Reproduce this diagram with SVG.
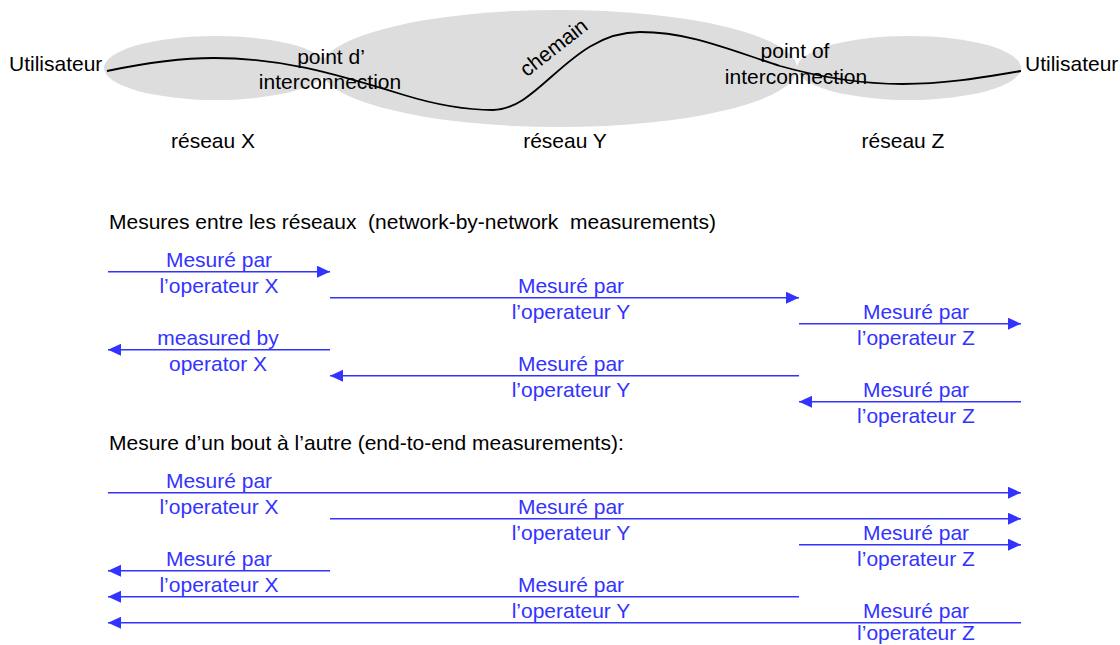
<svg xmlns="http://www.w3.org/2000/svg" width="1120" height="645" viewBox="0 0 1120 645">
<style>
text{font-family:"Liberation Sans",Arial,sans-serif;font-size:21px}
.k{fill:#000}
.b{fill:#3333ff;text-anchor:middle}
.c{text-anchor:middle}
.net{fill:#dddddd;stroke:none}
.arr{stroke:#3333ff;stroke-width:1.5;fill:none}
.r{marker-end:url(#ah)}
.pre{white-space:pre}
</style>
<defs>
<marker id="ah" markerUnits="userSpaceOnUse" markerWidth="14" markerHeight="13" refX="13" refY="6" orient="auto">
<path d="M0,0 L13,6 L0,12 z" fill="#3333ff"/>
</marker>
</defs>
<rect width="1120" height="645" fill="#fff"/>
<g id="reseau-X"><ellipse class="net" cx="216" cy="68" rx="112" ry="32"/><text class="c" x="213" y="148">réseau X</text></g>
<g id="reseau-Y"><ellipse class="net" cx="559" cy="68.5" rx="238" ry="58.5"/><text class="c" x="565" y="148">réseau Y</text></g>
<g id="reseau-Z"><ellipse class="net" cx="909" cy="68" rx="112" ry="32"/><text class="c" x="903" y="148">réseau Z</text></g>
<g id="chemin">
<path d="M107,71 C150,62 180,58 214,58 C280,58 330,72 404,95 C440,106 470,110 493,110 C540,110 570,32 640,32 C690,32 730,50 780,66 C830,80 870,84 903,84 C950,84 990,76 1021,71" fill="none" stroke="#000" stroke-width="1.8"/>
<text class="c" transform="translate(558,53) rotate(-38)">chemain</text>
</g>
<g id="utilisateur-gauche"><text x="9" y="71">Utilisateur</text></g>
<g id="utilisateur-droite"><text x="1025" y="71">Utilisateur</text></g>
<g id="poi-XY"><text class="c" x="331" y="64">point d’</text><text class="c" x="330" y="89">interconnection</text></g>
<g id="poi-YZ"><text class="c" x="795" y="58">point of</text><text class="c" x="796" y="84">interconnection</text></g>
<g id="titre-1"><text class="pre" x="109" y="229">Mesures entre les réseaux  (network-by-network  measurements)</text></g>
<g id="titre-2"><text x="109" y="450">Mesure d’un bout à l’autre (end-to-end measurements):</text></g>
<g id="connectors">
<line class="arr r" x1="108" y1="271.7" x2="330" y2="271.7"/>
<line class="arr r" x1="330" y1="297.7" x2="799" y2="297.7"/>
<line class="arr r" x1="799" y1="323.7" x2="1021" y2="323.7"/>
<line class="arr r" x1="330" y1="349.7" x2="108" y2="349.7"/>
<line class="arr r" x1="799" y1="375.7" x2="330" y2="375.7"/>
<line class="arr r" x1="1021" y1="401.7" x2="799" y2="401.7"/>
<line class="arr r" x1="108" y1="492.7" x2="1021" y2="492.7"/>
<line class="arr r" x1="330" y1="518.7" x2="1021" y2="518.7"/>
<line class="arr r" x1="799" y1="544.7" x2="1021" y2="544.7"/>
<line class="arr r" x1="330" y1="570.7" x2="108" y2="570.7"/>
<line class="arr r" x1="799" y1="596.7" x2="108" y2="596.7"/>
<line class="arr r" x1="1021" y1="622.7" x2="108" y2="622.7"/>
</g>
<g id="labels-reseau">
<text class="b" x="219" y="266.5">Mesuré par</text><text class="b" x="219" y="293">l’operateur X</text>
<text class="b" x="571" y="292.5">Mesuré par</text><text class="b" x="571" y="319">l’operateur Y</text>
<text class="b" x="916" y="318.5">Mesuré par</text><text class="b" x="916" y="345">l’operateur Z</text>
<text class="b" x="218" y="344.5">measured by</text><text class="b" x="218" y="371">operator X</text>
<text class="b" x="571" y="370.5">Mesuré par</text><text class="b" x="571" y="397">l’operateur Y</text>
<text class="b" x="916" y="396.5">Mesuré par</text><text class="b" x="916" y="423">l’operateur Z</text>
</g>
<g id="labels-bout">
<text class="b" x="219" y="487.5">Mesuré par</text><text class="b" x="219" y="514">l’operateur X</text>
<text class="b" x="571" y="513.5">Mesuré par</text><text class="b" x="571" y="540">l’operateur Y</text>
<text class="b" x="916" y="539.5">Mesuré par</text><text class="b" x="916" y="566">l’operateur Z</text>
<text class="b" x="219" y="565.5">Mesuré par</text><text class="b" x="219" y="592">l’operateur X</text>
<text class="b" x="571" y="591.5">Mesuré par</text><text class="b" x="571" y="618">l’operateur Y</text>
<text class="b" x="916" y="617.5">Mesuré par</text><text class="b" x="916" y="640">l’operateur Z</text>
</g>
</svg>
